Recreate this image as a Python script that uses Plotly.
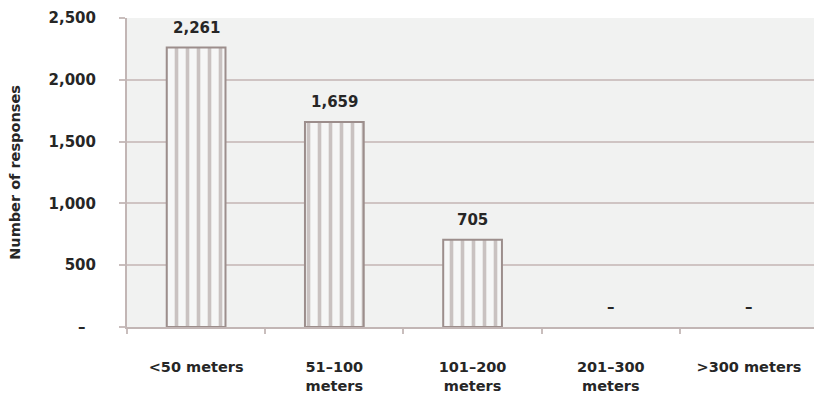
import plotly.graph_objects as go

# Survey responses by distance band
categories = ["<50 meters", "51–100<br>meters", "101–200<br>meters",
              "201–300<br>meters", ">300 meters"]
responses = [2261, 1659, 705, 0, 0]

y_ticks = [0, 500, 1000, 1500, 2000, 2500]
y_tick_text = ["–\u00a0\u00a0", "500", "1,000", "1,500", "2,000", "2,500"]

FONT = "DejaVu Sans"
TEXT_COLOR = "#262626"
STRIPE = "#9c8e8c"
GRID = "#cfc4c3"


def fmt(v):
    return "–" if v == 0 else f"{v:,}"


fig = go.Figure()
fig.add_trace(go.Bar(
    x=categories,
    y=responses,
    width=0.425,
    marker=dict(
        color="#f6f7f7",
        line=dict(color=STRIPE, width=[2 if v else 0 for v in responses]),
        pattern=dict(shape="|", size=11, solidity=0.33,
                     fgcolor=STRIPE, bgcolor="#f6f7f7", fillmode="overlay"),
    ),
    hoverinfo="skip",
))

for cat, val in zip(categories, responses):
    fig.add_annotation(
        x=cat, y=val, text=fmt(val), showarrow=False,
        yanchor="middle", yshift=20,
        font=dict(family=FONT, size=15, color=TEXT_COLOR, weight="bold"),
    )

fig.update_layout(
    width=814, height=398,
    margin=dict(l=127, r=0, t=18, b=71),
    paper_bgcolor="white",
    plot_bgcolor="#f1f2f1",
    showlegend=False,
    bargap=0.575,
    xaxis=dict(
        range=[-0.5, 4.47],
        tickson="boundaries",
        ticks="outside", ticklen=5, tickcolor="#c9bebd", tickwidth=1.5,
        showline=True, linecolor="#c2b6b5", linewidth=2,
        showgrid=False,
        ticklabelstandoff=26,
        tickfont=dict(family=FONT, size=14.5, color=TEXT_COLOR, weight="bold"),
    ),
    yaxis=dict(
        range=[0, 2500],
        tickvals=y_ticks, ticktext=y_tick_text,
        ticks="outside", ticklen=6, tickcolor="#c9bebd", tickwidth=1.5,
        showline=True, linecolor="#c2b6b5", linewidth=2,
        showgrid=True, gridcolor=GRID, gridwidth=2,
        zeroline=False,
        ticklabelstandoff=20,
        tickfont=dict(family=FONT, size=15, color=TEXT_COLOR, weight="bold"),
        title=dict(text="Number of responses", standoff=24,
                   font=dict(family=FONT, size=14.5, color=TEXT_COLOR, weight="bold")),
    ),
)

fig.write_html("out.html")
